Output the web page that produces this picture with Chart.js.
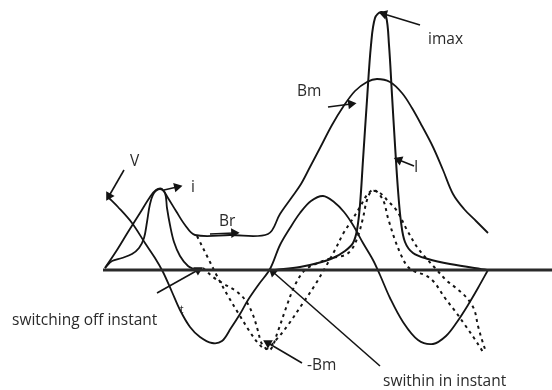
<!DOCTYPE html>
<html>
<head>
<meta charset="utf-8">
<script src="https://cdn.jsdelivr.net/npm/chart.js@4"></script>
<style>
  html, body { margin: 0; padding: 0; background: #fff; }
  #wrap { width: 552px; height: 390px; }
</style>
</head>
<body>
<div id="wrap"><canvas id="inrushChart" width="552" height="390"></canvas></div>
<script>
// curves, [x, y] in picture units (y grows downwards)
const axisLine = [[103, 270], [552, 270]];

const voltageV = [[108,197],[118,207],[132,223],[145,243],[155,258],[163,272],[172,292],[180,310],[190,327],[200,337],[212,343],[222,341],[231,328],[240,314],[248,300],[259,284],[270,269],[280,245],[290,228],[300,213],[311,201],[323,196],[334,202],[344,212],[353,225],[363,243],[373,260],[380,275],[390,298],[403,322],[418,340],[433,344],[446,336],[457,322],[468,305],[478,288],[488,270]];

const fluxB = [[105,268],[117,250],[128,232],[140,213],[150,197],[156,190],[162,189],[168,198],[176,211],[185,225],[195,235],[230,235],[268,234],[280,214],[292,197],[301,184],[310,167],[320,148],[332,125],[343,107],[355,91],[367,82],[377,79],[390,82],[402,93],[412,108],[422,126],[433,147],[443,170],[453,194],[464,209],[476,221],[488,233]];

const currentFirst = [[105,268],[112,261],[122,258],[132,254],[139,248],[144,238],[147,222],[150,204],[154,193],[160,189],[165,193],[167,208],[170,225],[174,242],[180,256],[188,266],[196,270]];

const currentSpike = [[275,270],[300,267],[318,263],[333,258],[345,251],[353,243],[357,230],[360,205],[363,160],[367,100],[371,45],[375,18],[381,12],[386,16],[389,45],[392,95],[395,145],[398,190],[401,222],[405,242],[413,253],[428,259],[450,264],[487,270]];

const fluxSteadyA = [[197,236],[207,256],[217,276],[228,296],[240,316],[250,332],[258,343],[266,349],[276,340],[288,325],[303,303],[315,285],[325,268],[335,250],[343,234],[352,220],[360,207],[367,195],[374,190],[383,200],[388,218],[395,240],[402,257],[408,267],[416,272],[425,275],[434,282],[445,298],[455,311],[465,325],[474,338],[483,352]];

const fluxSteadyB = [[203,268],[213,277],[224,284],[236,291],[246,301],[253,315],[258,331],[262,344],[270,350],[278,331],[286,308],[295,285],[305,270],[318,263],[332,258],[345,255],[352,249],[358,236],[363,218],[367,200],[372,191],[380,193],[388,201],[397,211],[407,230],[417,247],[426,258],[436,269],[446,280],[456,288],[466,297],[474,309],[478,326],[482,340],[486,352]];

// pointer lines: [from, to], head drawn at the "to" end
const pointers = [
  [[124,170],[109,196]],
  [[164,190],[177,187]],
  [[210,234],[234,233]],
  [[328,107],[351,104]],
  [[414,166],[399,160]],
  [[420,25],[384,14]],
  [[302,363],[268,343]],
  [[157,293],[198,270]],
  [[380,366],[273,272]]
];

const labelText = ["V", "i", "Br", "Bm", "I", "imax", "-Bm", "switching off instant", "swithin in instant", "t"];
const labelX = [130, 191, 219, 297, 414, 428, 307, 12, 383, 180];
const labelY = [162, 188, 222, 92, 168, 40, 366, 321, 382, 310];

const ink = "#141414";

function curve(pts, opts) {
  return Object.assign({
    data: pts.map(p => ({ x: p[0], y: p[1] })),
    showLine: true,
    borderColor: ink,
    borderWidth: 1.8,
    pointRadius: 0,
    tension: 0.35,
    fill: false,
    clip: false
  }, opts || {});
}

const datasets = [
  curve(axisLine, { borderWidth: 3, borderColor: "#2a2a2a", tension: 0 }),
  curve(voltageV),
  curve(fluxB),
  curve(currentFirst),
  curve(currentSpike, { borderWidth: 2 }),
  curve(fluxSteadyA, { borderDash: [3, 4], borderWidth: 2 }),
  curve(fluxSteadyB, { borderDash: [3, 4], borderWidth: 2 })
];

pointers.forEach(function (p) {
  const dx = p[1][0] - p[0][0];
  const dy = p[1][1] - p[0][1];
  const rot = Math.atan2(dx, -dy) * 180 / Math.PI;
  datasets.push(curve(p, {
    tension: 0,
    borderWidth: 1.6,
    pointRadius: [0, 4],
    pointStyle: "triangle",
    pointRotation: rot,
    pointBackgroundColor: ink,
    pointBorderColor: ink
  }));
});

const sketchLabels = {
  id: "sketchLabels",
  afterDatasetsDraw(chart) {
    const ctx = chart.ctx;
    const xs = chart.scales.x, ys = chart.scales.y;
    ctx.save();
    ctx.fillStyle = "#2a2a2a";
    ctx.textBaseline = "middle";
    ctx.textAlign = "left";
    labelText.forEach(function (t, i) {
      ctx.font = (t === "t" ? "10px" : "15.5px") + " 'Open Sans', sans-serif";
      ctx.fillText(t, xs.getPixelForValue(labelX[i]), ys.getPixelForValue(labelY[i]));
    });
    ctx.restore();
  }
};

new Chart(document.getElementById("inrushChart"), {
  type: "scatter",
  data: { datasets: datasets },
  options: {
    responsive: false,
    animation: false,
    events: [],
    layout: { padding: 0, autoPadding: false },
    plugins: { legend: { display: false }, tooltip: { enabled: false } },
    scales: {
      x: { type: "linear", min: 0, max: 552, display: false },
      y: { type: "linear", min: 0, max: 390, reverse: true, display: false }
    }
  },
  plugins: [sketchLabels]
});
</script>
</body>
</html>
